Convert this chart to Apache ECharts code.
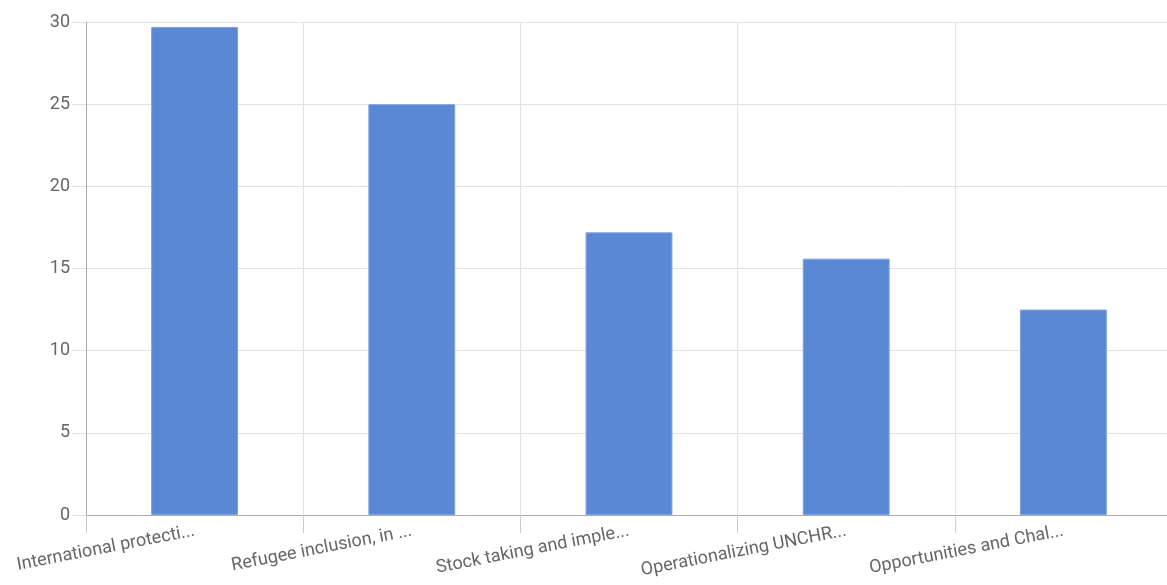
<!DOCTYPE html>
<html><head><meta charset="utf-8">
<script src="https://cdn.jsdelivr.net/npm/echarts@6/dist/echarts.min.js"></script>
<style>html,body{margin:0;padding:0;background:#fff;overflow:hidden;width:1167px;height:585px;}#c{width:1172px;height:585px;}</style>
</head><body><div id="c"></div>
<script>
const categories = ["International protecti...", "Refugee inclusion, in ...", "Stock taking and imple...", "Operationalizing UNCHR...", "Opportunities and Chal..."];
const values = [29.7, 25.0, 17.2, 15.6, 12.5];
const yTicks = [0, 5, 10, 15, 20, 25, 30];

const chart = echarts.init(document.getElementById('c'), null, {renderer: 'canvas'});
chart.setOption({
  animation: false,
  grid: {left: 86, right: 0, top: 22, bottom: 70, containLabel: false},
  xAxis: {
    type: 'category', data: categories,
    axisLine: {show: true, lineStyle: {color: '#aaaaaa', width: 1}},
    axisTick: {show: true, length: 18, lineStyle: {color: '#cccccc'}},
    splitLine: {show: true, lineStyle: {color: '#e2e2e2'}},
    axisLabel: {rotate: 11, color: '#666', fontFamily: 'Roboto', fontSize: 18, margin: 16, interval: 0}
  },
  yAxis: {
    type: 'value', min: yTicks[0], max: yTicks[yTicks.length - 1], interval: 5,
    axisLine: {show: true, lineStyle: {color: '#aaaaaa'}},
    axisTick: {show: true, length: 14, lineStyle: {color: '#e2e2e2'}},
    splitLine: {show: true, lineStyle: {color: '#e2e2e2'}},
    axisLabel: {color: '#666', fontFamily: 'Roboto', fontSize: 18, margin: 16}
  },
  series: [{
    type: 'bar', data: values, barWidth: '40%',
    itemStyle: {color: '#5b88d4', borderColor: '#7ea2e0', borderWidth: 1}
  }]
});
</script></body></html>
